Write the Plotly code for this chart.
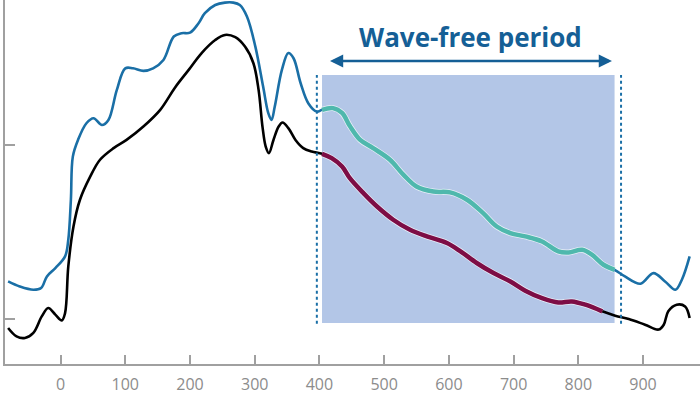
import plotly.graph_objects as go

# ---- data ----
blue_x = [-81, -63, -42, -30, -21, -8, 7, 12, 16, 19, 27, 40, 51, 64, 74, 87, 100, 112, 128, 143, 159,
          175, 187, 200, 213, 223, 239, 254, 267, 277, 288, 301, 313, 321, 326, 331, 342, 352, 360, 371,
          383, 396, 404, 421, 435, 447, 463, 483, 509, 530, 550, 576, 602, 628, 653, 674, 695, 718, 744,
          769, 785, 806, 821, 839, 856, 872, 896, 916, 934, 950, 960, 972]
blue_y = [21.6, 18.7, 16.8, 17.8, 24.5, 29.3, 36, 45.6, 68.6, 93.4, 103, 112.6, 115.5, 111.6, 114.5, 131.8,
          144.2, 144.2, 142.7, 144.2, 149, 162.5, 164.4, 164.7, 170, 175.9, 180.6, 182, 182, 180.6, 174,
          156.7, 133.7, 118.4, 114.5, 122.2, 143.3, 153, 150, 135.6, 124, 119.3, 120.3, 121.3, 118.5, 111,
          103, 98.3, 91.6, 82.9, 76.2, 73.3, 72.8, 68.6, 60.9, 53.2, 49.4, 47.5, 44.6, 38.9, 38.3, 39.8,
          37, 31.2, 28.3, 24.5, 20.3, 26.4, 21.6, 16.8, 22.6, 36]

black_x = [-81, -68, -55, -42, -29, -19, -8, 2, 7, 12, 20, 30, 46, 61, 82, 102, 128, 154, 177, 198, 218,
           239, 254, 270, 285, 298, 306, 312, 317, 322, 329, 337, 343, 352, 363, 375, 388, 404, 419, 435,
           447, 468, 489, 514, 540, 566, 597, 618, 643, 669, 695, 718, 744, 769, 790, 811, 837, 857, 878,
           903, 924, 932, 939, 952, 965, 972]
black_y = [-5.2, -10, -10.9, -8, 1.5, 6.3, 2.5, -0.8, 3.4, 30.2, 53.2, 68.6, 82, 91.6, 98.3, 103, 110.7,
           120.3, 133.2, 143.3, 153, 160.5, 163.4, 162.1, 156.7, 147.1, 131.8, 110.7, 99.2, 95.4, 103,
           110.7, 113, 109.8, 103, 98.3, 96.3, 95, 92.5, 87.7, 81, 72.4, 64.7, 57.1, 51.3, 47.5, 43.7,
           38.9, 32.2, 26.4, 21.6, 16.3, 12, 9.5, 10.1, 8.2, 4.4, 1.9, 0, -3.3, -6.1, -3.3, 4.4, 8.2,
           7.2, 0.6]

period_start, period_end = 404, 856
period_low, period_high = -2.3, 140.4
marker_lines = [396, 866]
arrow_y = 148.4
label_text = "Wave-free period"
label_x, label_y = 633, 162
x_ticks = [0, 100, 200, 300, 400, 500, 600, 700, 800, 900]
y_ticks = [0, 100]

BLUE = "#1a6fa6"
TEAL = "#4fb8ad"
MAROON = "#7d0d45"
DARK = "#155f96"
RECT = "#b3c6e7"
AXIS = "#a0a0a0"
SMOOTH = 1.0


def segment(xs, ys, lo, hi):
    pts = [(a, b) for a, b in zip(xs, ys) if lo <= a <= hi]
    return [p[0] for p in pts], [p[1] for p in pts]


fig = go.Figure()

fig.add_shape(type="rect", x0=period_start, x1=period_end, y0=period_low, y1=period_high,
              xref="x", yref="y", fillcolor=RECT, line_width=0, layer="below")
for mx in marker_lines:
    fig.add_shape(type="line", x0=mx, x1=mx, y0=period_low - 0.5, y1=period_high,
                  xref="x", yref="y", line=dict(color=BLUE, width=2, dash="dot"))

fig.add_trace(go.Scatter(x=blue_x, y=blue_y, mode="lines",
                         line=dict(color=BLUE, width=2.6, shape="spline", smoothing=SMOOTH)))
fig.add_trace(go.Scatter(x=black_x, y=black_y, mode="lines",
                         line=dict(color="#000000", width=2.6, shape="spline", smoothing=SMOOTH)))

tx, ty = segment(blue_x, blue_y, period_start, period_end)
mx_, my_ = segment(black_x, black_y, period_start, period_end)
for xs, ys, c in [(tx, ty, TEAL), (mx_, my_, MAROON)]:
    fig.add_trace(go.Scatter(x=xs, y=ys, mode="lines",
                             line=dict(color="rgba(255,255,255,0.7)", width=6, shape="spline", smoothing=SMOOTH)))
    fig.add_trace(go.Scatter(x=xs, y=ys, mode="lines",
                             line=dict(color=c, width=4.5, shape="spline", smoothing=SMOOTH)))

fig.add_annotation(x=period_end - 4, y=arrow_y, ax=period_start + 10, ay=arrow_y,
                   xref="x", yref="y", axref="x", ayref="y", text="", showarrow=True,
                   arrowhead=2, arrowside="end+start", arrowsize=1.1, arrowwidth=2.4, arrowcolor=DARK)
fig.add_annotation(x=label_x, y=label_y, xref="x", yref="y", text="<b>" + label_text + "</b>",
                   showarrow=False, font=dict(family="Open Sans", size=26, color=DARK))

fig.update_layout(
    width=700, height=394, margin=dict(l=5, r=0, t=0, b=30),
    paper_bgcolor="white", plot_bgcolor="white", showlegend=False,
    xaxis=dict(range=[-85.8, 988], tickvals=x_ticks, ticks="inside", ticklen=9, tickwidth=1.5,
               tickcolor=AXIS, showline=True, linecolor=AXIS, linewidth=1.5, showgrid=False,
               zeroline=False, ticklabelstandoff=5,
               tickfont=dict(family="Open Sans", size=16, color="#8c8c8c")),
    yaxis=dict(range=[-25.9, 183.5], tickvals=y_ticks, ticks="inside", ticklen=10, tickwidth=1.5,
               tickcolor=AXIS, showline=True, linecolor=AXIS, linewidth=1.5, showgrid=False,
               zeroline=False, showticklabels=False),
)

fig.write_html("out.html", config={"displayModeBar": False},
               post_script="document.body.style.margin='0';document.body.style.overflow='hidden';")
